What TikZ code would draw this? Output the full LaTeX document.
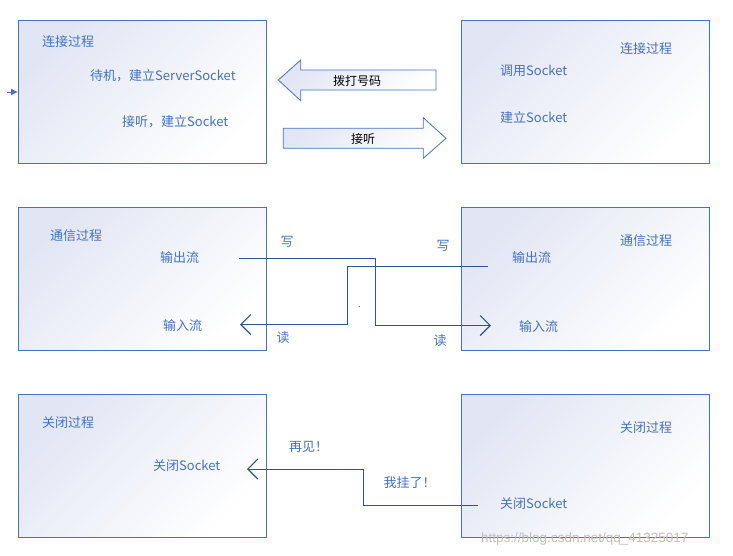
\documentclass[tikz,border=0pt]{standalone}
\usepackage{fontspec}
\setmainfont{Noto Sans CJK SC}
\newfontfamily\wmfont{Liberation Sans}
\usetikzlibrary{arrows.meta}
\definecolor{bedge}{HTML}{4472C4}
\definecolor{btext}{HTML}{4472C4}
\definecolor{bline}{HTML}{2F5597}
\definecolor{bfill}{HTML}{E2E6F4}
\definecolor{bmid}{HTML}{F6F7FC}
\begin{document}
\begin{tikzpicture}[x=1pt,y=-1pt,
  panel/.style={draw=bedge, line width=1pt, top color=bfill, middle color=bmid, bottom color=white, shading angle=45},
  boxnode/.style={panel, minimum width=248pt, minimum height=143pt, anchor=north west, inner sep=0pt},
  lbl/.style={text=btext, font=\fontsize{13}{15}\selectfont, inner sep=0pt, anchor=west},
  arrtxt/.style={text=black, font=\fontsize{12}{14}\selectfont, inner sep=0pt},
  wire/.style={draw=bline, line width=1pt},
  chev/.style={-{Straight Barb[length=10pt,width=20pt,line width=1.2pt]}}
]
\useasboundingbox (0,0) rectangle (733,555);
% boxes
\node[boxnode] (b1) at (18,20) {};
\node[boxnode] (b2) at (460.5,20) {};
\node[boxnode] (b3) at (18,206.5) {};
\node[boxnode] (b4) at (460.5,206.5) {};
\node[boxnode] (b5) at (18,393.5) {};
\node[boxnode] (b6) at (460.5,393.5) {};
% entry arrow
\coordinate (entry) at (7,92);
\draw[bedge, line width=1pt, -{Latex[length=7pt,width=7pt]}] (entry) -- (b1.west |- entry);
% block arrows
\path[panel, line width=0.8pt] (278.3,80) -- (300.7,60) -- (300.7,70) -- (436,70) -- (436,90) -- (300.7,90) -- (300.7,100.7) -- cycle;
\node[arrtxt] (dial) at (357,80.5) {拨打号码};
\path[panel, line width=0.8pt] (283.3,128.3) -- (423.3,128.3) -- (423.3,117.7) -- (446,138.3) -- (423.3,158.3) -- (423.3,148.3) -- (283.3,148.3) -- cycle;
\node[arrtxt] (answer) at (363,138.8) {接听};
% box 1 texts
\node[lbl] (t1a) at (42,42) {连接过程};
\node[lbl] (t1b) at (90,76) {待机，建立ServerSocket};
\node[lbl] (t1c) at (122,122) {接听，建立Socket};
% box 2 texts
\node[lbl] (t2a) at (620,49) {连接过程};
\node[lbl] (t2b) at (500,71) {调用Socket};
\node[lbl] (t2c) at (500,118) {建立Socket};
% box 3 texts
\node[lbl] (t3a) at (50,236) {通信过程};
\node[lbl] (t3b) at (160,258) {输出流};
\node[lbl] (t3c) at (163,326) {输入流};
% box 4 texts
\node[lbl] (t4a) at (620,241) {通信过程};
\node[lbl] (t4b) at (512,258) {输出流};
\node[lbl] (t4c) at (519,327) {输入流};
% communication wires
\coordinate (o1) at (239,258);
\coordinate (i2) at (491,325.5);
\draw[wire, chev] (o1) -- (375,258) -- (375,325.5) -- (i2);
\coordinate (o2) at (488,266);
\coordinate (i1) at (240,324.5);
\draw[wire, chev] (o2) -- (347,266) -- (347,324.5) -- (i1);
\node[lbl, anchor=center] (w1) at (287,242) {写};
\node[lbl, anchor=center] (w2) at (443,246) {写};
\node[lbl, anchor=center] (r1) at (283,338) {读};
\node[lbl, anchor=center] (r2) at (440,341) {读};
\fill[bline] (359.3,306.5) circle (0.6pt);
% box 5 texts
\node[lbl] (t5a) at (42,423) {关闭过程};
\node[lbl] (t5b) at (153,466) {关闭Socket};
% box 6 texts
\node[lbl] (t6a) at (620,428) {关闭过程};
\node[lbl] (t6b) at (500,504) {关闭Socket};
% closing wire
\coordinate (c1) at (478,505.5);
\coordinate (c2) at (247,469);
\draw[wire, chev] (c1) -- (363.3,505.5) -- (363.3,469) -- (c2);
\node[lbl] (bye) at (289,447) {再见！};
\node[lbl] (hang) at (383.5,483) {我挂了！};
% watermark
\node[inner sep=0pt, anchor=west, text=black!25, font=\wmfont\fontsize{13.5}{15}\selectfont] (wm) at (481,539) {https://blog.csdn.net/qq\_41325017};
\end{tikzpicture}
\end{document}
